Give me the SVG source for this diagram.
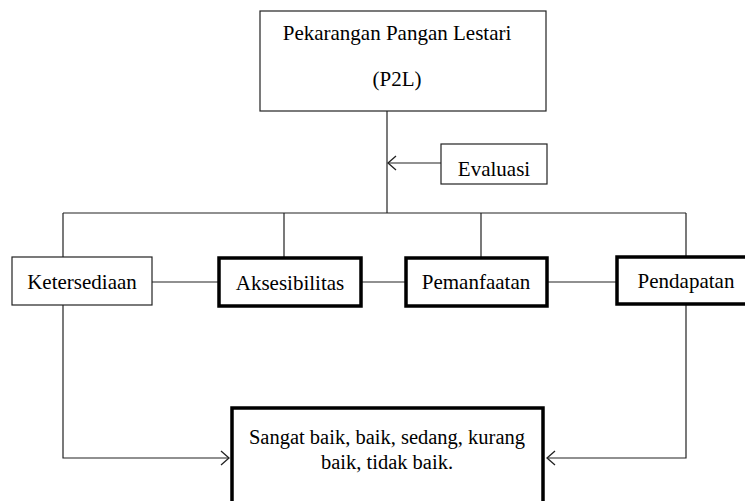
<svg xmlns="http://www.w3.org/2000/svg" width="745" height="501" viewBox="0 0 745 501">
<defs>
<style>
.box{fill:#fff;stroke:#222;stroke-width:1.2}
.thick{fill:#fff;stroke:#000;stroke-width:3.5}
.t{font-family:"Liberation Serif","Times New Roman",serif;font-size:21px;fill:#000;text-anchor:middle}
.c{fill:none;stroke:#222;stroke-width:1.2}
</style>
<marker id="arr" viewBox="0 0 10 16" refX="9" refY="8" markerWidth="10" markerHeight="16" markerUnits="userSpaceOnUse" orient="auto">
<path d="M1,1 L9,8 L1,15" fill="none" stroke="#222" stroke-width="1.3"/>
</marker>
</defs>
<rect width="745" height="501" fill="#fff"/>
<g id="connectors">
<path class="c" d="M387,111 V213"/>
<path class="c" d="M63,213 H686"/>
<path class="c" d="M63,213 V257 M284,213 V258 M481,213 V258 M686,213 V257"/>
<path class="c" d="M152,282 H219 M361,282 H406 M547,282 H617"/>
<path class="c" d="M441,163 H388" marker-end="url(#arr)"/>
<path class="c" d="M63,305 V458 H229" marker-end="url(#arr)"/>
<path class="c" d="M686,304 V458 H547" marker-end="url(#arr)"/>
</g>
<g id="p2l">
<rect class="box" x="260" y="11" width="286" height="100"/>
<text class="t" x="397" y="40">Pekarangan Pangan Lestari</text>
<text class="t" x="397" y="86">(P2L)</text>
</g>
<g id="evaluasi">
<rect class="box" x="441" y="144" width="106" height="40"/>
<text class="t" x="494" y="176">Evaluasi</text>
</g>
<g id="ketersediaan">
<rect class="box" x="12" y="257" width="140" height="48"/>
<text class="t" x="82" y="289">Ketersediaan</text>
</g>
<g id="aksesibilitas">
<rect class="thick" x="219" y="258" width="142" height="48"/>
<text class="t" x="290" y="290">Aksesibilitas</text>
</g>
<g id="pemanfaatan">
<rect class="thick" x="406" y="258" width="141" height="48"/>
<text class="t" x="476" y="289">Pemanfaatan</text>
</g>
<g id="pendapatan">
<rect class="thick" x="617" y="257" width="140" height="47"/>
<text class="t" x="686" y="288">Pendapatan</text>
</g>
<g id="hasil">
<rect class="thick" x="232" y="408" width="311" height="110"/>
<text class="t" x="387" y="444" style="font-size:20.5px">Sangat baik, baik, sedang, kurang</text>
<text class="t" x="387" y="469" style="font-size:20.5px">baik, tidak baik.</text>
</g>
</svg>
